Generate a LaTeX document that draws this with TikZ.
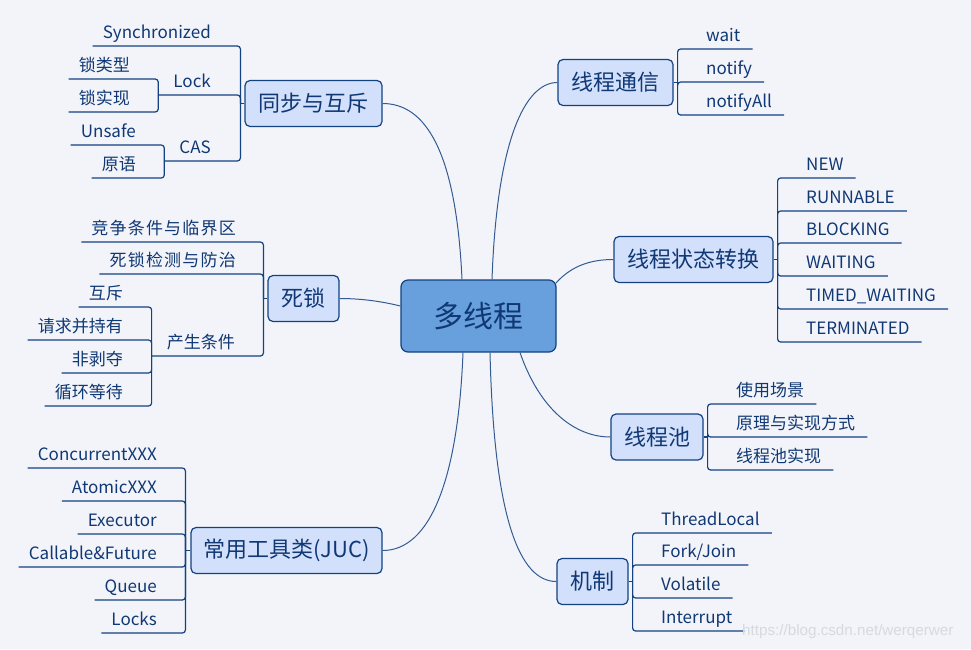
\documentclass[tikz,border=0pt]{standalone}
\usepackage{fontspec}
\setmainfont{Noto Sans CJK SC}
\newfontfamily\wmfont{Liberation Sans}
\definecolor{bg}{RGB}{243,244,250}
\definecolor{ln}{RGB}{18,66,130}
\definecolor{tx}{RGB}{16,56,116}
\definecolor{mainfill}{RGB}{210,224,252}
\definecolor{cfill}{RGB}{104,160,222}
\definecolor{curvecol}{RGB}{50,92,145}
\definecolor{wmcol}{RGB}{214,217,224}

\newcommand\Lleaf[5]{%
  \node[leaf,anchor=base east] (#2) at (#3,#4-8) {#5};
  \draw[br] (#1) |- ([shift={(-10,8)}]#2.base west);
}
\newcommand\Lmid[5]{%
  \node[leaf,anchor=base east] (#2) at (#3,#4-8) {#5};
  \coordinate (#2-b) at ([shift={(-15,8)}]#2.base west);
  \draw[br] (#1) |- (#2-b);
}
\newcommand\Rleaf[5]{%
  \node[leaf,anchor=base west] (#2) at (#3,#4-8) {#5};
  \draw[br] (#1) |- ([shift={(12,8)}]#2.base east);
}

\begin{document}
\begin{tikzpicture}[x=1pt,y=-1pt,
  leaf/.style={font=\fontsize{17}{20}\selectfont, text=tx, inner sep=0pt},
  br/.style={draw=ln, line width=1.2pt, rounded corners=3pt},
  mainbox/.style={draw=ln, line width=1.2pt, fill=mainfill, rounded corners=5pt,
    minimum height=46pt, inner sep=0pt, text=tx, font=\fontsize{22}{26}\selectfont},
  centerbox/.style={draw=ln, line width=1.2pt, fill=cfill, rounded corners=7pt,
    minimum width=155pt, minimum height=72pt, inner sep=0pt, text=tx,
    font=\fontsize{30}{34}\selectfont},
  curve/.style={draw=curvecol, line width=1pt}]

\fill[bg] (0,0) rectangle (971,649);
\useasboundingbox (0,0) rectangle (971,649);

% central and main nodes
\node[centerbox] (c) at (478.5,316) {多线程};
\node[mainbox, minimum width=137pt] (tbj) at (313.5,103.5) {同步与互斥};
\node[mainbox, minimum width=71pt] (ds) at (303.5,298.5) {死锁};
\node[mainbox, minimum width=191pt] (juc) at (286.5,550.5) {常用工具类(JUC)};
\node[mainbox, minimum width=115pt] (tx) at (615.5,82.5) {线程通信};
\node[mainbox, minimum width=159pt] (zt) at (693.5,259.5) {线程状态转换};
\node[mainbox, minimum width=92pt] (xcc) at (657,437) {线程池};
\node[mainbox, minimum width=71pt] (jz) at (592.5,581.5) {机制};

% curves from centre
\draw[curve] ([shift={(-16.5,0)}]c.north) .. controls (456,150) and (425,103.5) .. (tbj.east);
\draw[curve] ([shift={(13.5,0)}]c.north) .. controls (497,140) and (525,82.5) .. (tx.west);
\draw[curve] ([shift={(-1,4)}]c.north east) .. controls (572,265) and (592,259.5) .. (zt.west);
\draw[curve] ([shift={(0,-10)}]c.west) .. controls (380,301) and (360,298.5) .. (ds.east);
\draw[curve] ([shift={(-15.5,0)}]c.south) .. controls (458,480) and (430,550.5) .. (juc.east);
\draw[curve] ([shift={(11.5,0)}]c.south) .. controls (494,520) and (520,581.5) .. (jz.west);
\draw[curve] ([shift={(41.5,0)}]c.south) .. controls (540,410) and (575,437) .. (xcc.west);

% bracket points
\coordinate (tbj-b) at ([shift={(-4,0)}]tbj.west);
\coordinate (ds-b) at ([shift={(-4,0)}]ds.west);
\coordinate (juc-b) at ([shift={(-5,0)}]juc.west);
\coordinate (tx-b) at ([shift={(4,0)}]tx.east);
\coordinate (zt-b) at ([shift={(4,0)}]zt.east);
\coordinate (xcc-b) at ([shift={(4,0)}]xcc.east);
\coordinate (jz-b) at ([shift={(4,0)}]jz.east);
\foreach \n/\b in {tbj/tbj-b, ds/ds-b, juc/juc-b}{\draw[br] (\n.west) -- (\b);}
\foreach \n/\b in {tx/tx-b, zt/zt-b, xcc/xcc-b, jz/jz-b}{\draw[br] (\n.east) -- (\b);}

% 同步与互斥
\Lleaf{tbj-b}{sync}{211}{46}{Synchronized}
\Lmid{tbj-b}{lock}{211}{95}{Lock}
\Lleaf{lock-b}{lk1}{130}{79}{锁类型}
\Lleaf{lock-b}{lk2}{130}{112}{锁实现}
\Lmid{tbj-b}{cas}{211}{161}{CAS}
\Lleaf{cas-b}{cas1}{136}{145}{Unsafe}
\Lleaf{cas-b}{cas2}{136}{178}{原语}

% 死锁
\Lleaf{ds-b}{ds1}{236}{242}{\addfontfeatures{LetterSpace=7}竞争条件与临界区}
\Lleaf{ds-b}{ds2}{236}{274}{\addfontfeatures{LetterSpace=7}死锁检测与防治}
\Lmid{ds-b}{cond}{235}{356}{产生条件}
\Lleaf{cond-b}{c1}{123}{307}{互斥}
\Lleaf{cond-b}{c2}{123}{340}{请求并持有}
\Lleaf{cond-b}{c3}{123}{373}{非剥夺}
\Lleaf{cond-b}{c4}{123}{406}{循环等待}

% 常用工具类
\Lleaf{juc-b}{j1}{157}{468}{ConcurrentXXX}
\Lleaf{juc-b}{j2}{157}{501}{AtomicXXX}
\Lleaf{juc-b}{j3}{157}{534}{Executor}
\Lleaf{juc-b}{j4}{157}{567}{Callable\&Future}
\Lleaf{juc-b}{j5}{157}{600}{Queue}
\Lleaf{juc-b}{j6}{157}{633}{Locks}

% 线程通信
\Rleaf{tx-b}{t1}{706}{49}{wait}
\Rleaf{tx-b}{t2}{706}{82}{notify}
\Rleaf{tx-b}{t3}{706}{115}{notifyAll}

% 线程状态转换
\Rleaf{zt-b}{z1}{806}{178}{NEW}
\Rleaf{zt-b}{z2}{806}{211}{RUNNABLE}
\Rleaf{zt-b}{z3}{806}{243}{BLOCKING}
\Rleaf{zt-b}{z4}{806}{276}{WAITING}
\Rleaf{zt-b}{z5}{806}{309}{TIMED\_WAITING}
\Rleaf{zt-b}{z6}{806}{342}{TERMINATED}

% 线程池
\Rleaf{xcc-b}{p1}{736}{404}{使用场景}
\Rleaf{xcc-b}{p2}{736}{437}{原理与实现方式}
\Rleaf{xcc-b}{p3}{736}{470}{线程池实现}

% 机制
\Rleaf{jz-b}{m1}{661}{533}{ThreadLocal}
\Rleaf{jz-b}{m2}{661}{565}{Fork/Join}
\Rleaf{jz-b}{m3}{661}{598}{Volatile}
\Rleaf{jz-b}{m4}{661}{631}{Interrupt}

% watermark
\node[font=\wmfont\fontsize{15.2}{18}\selectfont, text=wmcol, anchor=base west, inner sep=0pt] (wm) at (742,635) {https://blog.csdn.net/werqerwer};
\end{tikzpicture}
\end{document}
